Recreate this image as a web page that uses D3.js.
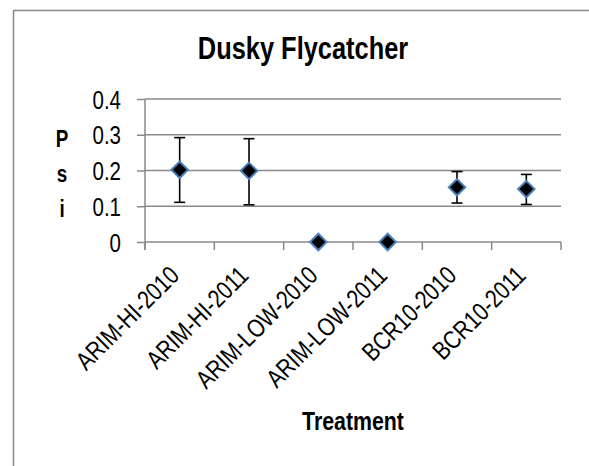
<!DOCTYPE html>
<html>
<head>
<meta charset="utf-8">
<script src="https://cdn.jsdelivr.net/npm/d3@7"></script>
<style>
  body { margin: 0; background: #fff; }
  text { font-family: "Liberation Sans", Arial, sans-serif; fill: #000; }
</style>
</head>
<body>
<script>
// Data
var categories = ["ARIM-HI-2010", "ARIM-HI-2011", "ARIM-LOW-2010", "ARIM-LOW-2011", "BCR10-2010", "BCR10-2011"];
var psi = [0.202, 0.199, 0, 0, 0.153, 0.148];
var lower = [0.111, 0.104, 0, 0, 0.109, 0.105];
var upper = [0.292, 0.289, 0, 0, 0.197, 0.189];
var yTicks = [0, 0.1, 0.2, 0.3, 0.4];

// Narrow look: regular sans squeezed horizontally
var narrow = 0.82;

var svgWidth = 589, svgHeight = 466;
var margin = { top: 99, left: 145, right: 28, bottom: 224 };
var width = svgWidth - margin.left - margin.right;
var height = svgHeight - margin.top - margin.bottom;

var svg = d3.select("body").append("svg")
  .attr("width", svgWidth)
  .attr("height", svgHeight);

// Chart frame (only top and left are visible)
svg.append("path")
  .attr("d", "M13.5,466 V10.5 H589")
  .attr("fill", "none")
  .attr("stroke", "#888")
  .attr("stroke-width", 1.5);

var chartGroup = svg.append("g")
  .attr("transform", `translate(${margin.left}, ${margin.top})`);

var xScale = d3.scaleBand().domain(categories).range([0, width]).padding(0);
var yScale = d3.scaleLinear().domain([0, 0.4]).range([height, 0]);

// Gridlines
chartGroup.append("g")
  .selectAll("line")
  .data(yTicks.filter(d => d > 0))
  .enter().append("line")
  .attr("x1", 0)
  .attr("x2", width)
  .attr("y1", d => yScale(d))
  .attr("y2", d => yScale(d))
  .attr("stroke", "#888")
  .attr("stroke-width", 1.5);

// Y axis
var yAxis = d3.axisLeft(yScale)
  .tickValues(yTicks)
  .tickSize(8)
  .tickPadding(16)
  .tickFormat(d => d === 0 ? "0" : d3.format(".1f")(d));

var yG = chartGroup.append("g").attr("class", "y-axis").call(yAxis);
yG.select(".domain").remove();
yG.selectAll("line").attr("stroke", "#888").attr("stroke-width", 1.5);
yG.selectAll("text")
  .attr("font-size", 25)
  .attr("fill", "#000")
  .attr("font-family", null)
  .attr("x", -24 / narrow)
  .attr("dy", "0.36em")
  .attr("transform", `scale(${narrow},1)`);

chartGroup.append("line")
  .attr("x1", 0).attr("x2", 0)
  .attr("y1", 0).attr("y2", height + 8)
  .attr("stroke", "#888")
  .attr("stroke-width", 1.5);

// X axis
var xG = chartGroup.append("g").attr("transform", `translate(0, ${height})`);
xG.append("line")
  .attr("x1", 0).attr("x2", width)
  .attr("y1", 0).attr("y2", 0)
  .attr("stroke", "#888")
  .attr("stroke-width", 1.5);

var boundaries = categories.map(c => xScale(c)).concat([width]);
xG.selectAll(".xtick")
  .data(boundaries)
  .enter().append("line")
  .attr("class", "xtick")
  .attr("x1", d => d).attr("x2", d => d)
  .attr("y1", 0).attr("y2", 8)
  .attr("stroke", "#888")
  .attr("stroke-width", 1.5);

xG.selectAll(".xlabel")
  .data(categories)
  .enter().append("text")
  .attr("class", "xlabel")
  .attr("text-anchor", "end")
  .attr("font-size", 25.5)
  .attr("transform", d => `translate(${xScale(d) + xScale.bandwidth() / 2 + 1}, 35) rotate(-45) scale(${narrow},1)`)
  .text(d => d);

// Error bars
var cx = (d, i) => xScale(categories[i]) + xScale.bandwidth() / 2;
var bars = chartGroup.append("g");
categories.forEach(function(c, i) {
  if (upper[i] === lower[i]) return;
  var x = xScale(c) + xScale.bandwidth() / 2;
  var g = bars.append("g").attr("stroke", "#000").attr("stroke-width", 1.6);
  g.append("line").attr("x1", x).attr("x2", x).attr("y1", yScale(upper[i])).attr("y2", yScale(lower[i]));
  g.append("line").attr("x1", x - 5.5).attr("x2", x + 5.5).attr("y1", yScale(upper[i])).attr("y2", yScale(upper[i]));
  g.append("line").attr("x1", x - 5.5).attr("x2", x + 5.5).attr("y1", yScale(lower[i])).attr("y2", yScale(lower[i]));
});

// Diamond markers
var diamond = d3.symbol().type(d3.symbolSquare).size(135);
chartGroup.append("g")
  .selectAll("path")
  .data(psi)
  .enter().append("path")
  .attr("d", diamond)
  .attr("transform", (d, i) => `translate(${cx(d, i)}, ${yScale(d)}) rotate(45)`)
  .attr("fill", "#000")
  .attr("stroke", "#4a7ebb")
  .attr("stroke-width", 2);

// Title
svg.append("text")
  .attr("transform", `translate(303, 59) scale(${narrow},1)`)
  .attr("text-anchor", "middle")
  .attr("font-size", 31)
  .attr("font-weight", "bold")
  .text("Dusky Flycatcher");

// Y label, stacked letters
svg.append("g")
  .selectAll("text")
  .data(["P", "s", "i"])
  .enter().append("text")
  .attr("transform", (d, i) => `translate(62, ${147 + i * 35}) scale(${narrow},1)`)
  .attr("text-anchor", "middle")
  .attr("font-size", 23)
  .attr("font-weight", "bold")
  .text(d => d);

// X label
svg.append("text")
  .attr("transform", `translate(353, 430) scale(${narrow},1)`)
  .attr("text-anchor", "middle")
  .attr("font-size", 26)
  .attr("font-weight", "bold")
  .text("Treatment");
</script>
</body>
</html>
